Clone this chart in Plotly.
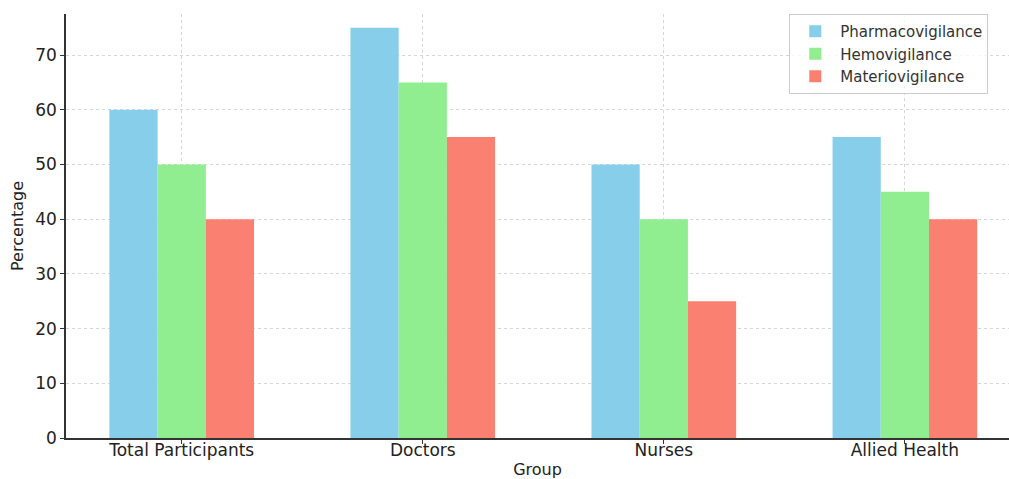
import plotly.graph_objects as go

categories = ["Total Participants", "Doctors", "Nurses", "Allied Health"]
pharmacovigilance = [60, 75, 50, 55]
hemovigilance = [50, 65, 40, 45]
materiovigilance = [40, 55, 25, 40]
series_names = ["Pharmacovigilance", "Hemovigilance", "Materiovigilance"]
colors = ["#87CEEB", "#90EE90", "#FA8072"]
y_ticks = [0, 10, 20, 30, 40, 50, 60, 70]

fig = go.Figure()
for name, vals, col in zip(series_names, [pharmacovigilance, hemovigilance, materiovigilance], colors):
    fig.add_trace(go.Bar(x=categories, y=vals, name=name, marker=dict(color=col, line=dict(width=0))))

font = "DejaVu Sans, Verdana, sans-serif"
fig.update_layout(
    width=1009, height=479,
    margin=dict(l=66, r=0, t=14, b=41, autoexpand=False),
    plot_bgcolor="white", paper_bgcolor="white",
    barmode="group", bargap=0.4, bargroupgap=0,
    font=dict(family=font, size=17, color="#222222"),
    showlegend=True,
    legend=dict(x=0.767, y=1, xanchor="left", yanchor="top",
                bordercolor="#cccccc", borderwidth=1, bgcolor="rgba(255,255,255,0.8)",
                font=dict(size=15, color="#333333"), tracegroupgap=0, itemwidth=40),
    xaxis=dict(range=[-0.48, 3.432], showline=True, linecolor="#333333", linewidth=1.5,
               ticks="outside", ticklen=4, tickcolor="#333333", automargin=False,
               ticklabelstandoff=-8,
               showgrid=True, gridcolor="#d6d6d6", griddash="3px,3px", gridwidth=1,
               title=dict(text="Group", standoff=5, font=dict(size=16)), mirror=False),
    yaxis=dict(range=[0, 77.5], tickvals=y_ticks, showline=True, linecolor="#333333", linewidth=1.5,
               ticks="outside", ticklen=4, tickcolor="#333333", automargin=False,
               showgrid=True, gridcolor="#d6d6d6", griddash="3px,3px", gridwidth=1,
               zeroline=False,
               title=dict(text="Percentage", standoff=8, font=dict(size=16))),
)

fig.write_html("out.html")
